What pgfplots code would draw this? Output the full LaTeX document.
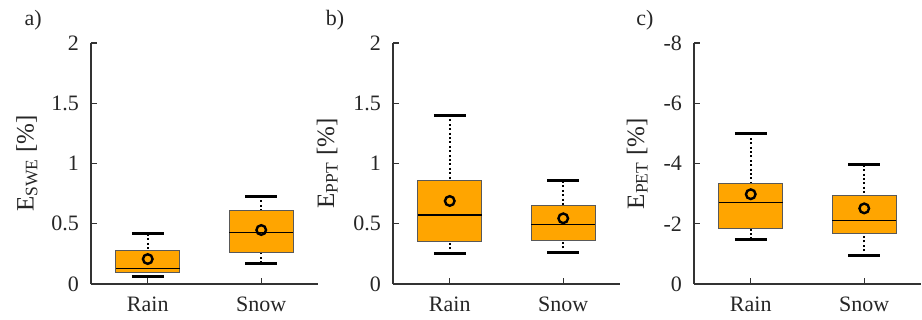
\documentclass[border=0pt]{standalone}
\usepackage{fontspec}
\setmainfont{Liberation Serif}
\usepackage{pgfplots}
\pgfplotsset{compat=1.18}
\usepgfplotslibrary{statistics}
\definecolor{boxorange}{HTML}{FFA500}

\pgfplotsset{
 myaxis/.style={
  scale only axis, width=113.5pt, height=120.5pt,
  xmin=0.5, xmax=2.5, xtick={1,2}, xticklabels={Rain,Snow},
  axis x line*=bottom, axis y line*=left,
  tick align=inside, major tick length=3pt,
  axis line style={black!80, line width=0.7pt},
  tick style={black!80, line width=0.7pt},
  /pgf/number format/assume math mode=true,
  every tick label/.append style={font=\fontsize{11}{13}\selectfont, text=black!85},
  yticklabel style={xshift=-2.5pt},
  xticklabel style={yshift=-3pt},
  label style={font=\fontsize{12.5}{14}\selectfont, text=black!85},
  clip=false,
  boxplot/draw direction=y,
  boxplot/box extend=0.56,
  boxplot/whisker extend=0.28,
  boxplot/every box/.style={draw=black!65, fill=boxorange, line width=0.5pt},
  boxplot/every median/.style={black, line width=0.6pt},
  boxplot/draw/lower whisker/.code={%
   \draw[black, line width=1.1pt, dash pattern=on 1pt off 1.2pt]
     (boxplot box cs:\pgfplotsboxplotvalue{lower whisker},0.5) --
     (boxplot box cs:\pgfplotsboxplotvalue{lower quartile},0.5);
   \draw[black, line width=1.5pt]
     (boxplot whisker cs:\pgfplotsboxplotvalue{lower whisker},0) --
     (boxplot whisker cs:\pgfplotsboxplotvalue{lower whisker},1);
  },
  boxplot/draw/upper whisker/.code={%
   \draw[black, line width=1.1pt, dash pattern=on 1pt off 1.2pt]
     (boxplot box cs:\pgfplotsboxplotvalue{upper whisker},0.5) --
     (boxplot box cs:\pgfplotsboxplotvalue{upper quartile},0.5);
   \draw[black, line width=1.5pt]
     (boxplot whisker cs:\pgfplotsboxplotvalue{upper whisker},0) --
     (boxplot whisker cs:\pgfplotsboxplotvalue{upper whisker},1);
  },
 },
 meanmark/.style={only marks, mark=o, mark size=2.4pt, mark options={line width=1.2pt, black}},
}

\begin{document}
\begin{tikzpicture}
\useasboundingbox (0,0) rectangle (461pt,160pt);

% ---- a) ----
\begin{axis}[myaxis, at={(45.5pt,18pt)},
  ymin=0, ymax=2, ytick={0,0.5,1,1.5,2},
  ylabel={E\textsubscript{SWE} [\%]},
  ylabel style={at={(axis description cs:-0.282,0.5)}, anchor=center}]
\addplot[black, boxplot prepared={draw position=1, lower whisker=0.061, lower quartile=0.097, median=0.13, upper quartile=0.282, upper whisker=0.415}] coordinates {};
\addplot[black, boxplot prepared={draw position=2, lower whisker=0.174, lower quartile=0.263, median=0.426, upper quartile=0.609, upper whisker=0.73}] coordinates {};
\addplot[meanmark] coordinates {(1,0.207) (2,0.448)};
\node[font=\fontsize{11}{13}\selectfont, text=black!85] at (axis description cs:-0.255,1.095) {a)};
\end{axis}

% ---- b) ----
\begin{axis}[myaxis, at={(196.5pt,18pt)},
  ymin=0, ymax=2, ytick={0,0.5,1,1.5,2},
  ylabel={E\textsubscript{PPT} [\%]},
  ylabel style={at={(axis description cs:-0.29,0.5)}, anchor=center}]
\addplot[black, boxplot prepared={draw position=1, lower whisker=0.252, lower quartile=0.349, median=0.573, upper quartile=0.858, upper whisker=1.402}] coordinates {};
\addplot[black, boxplot prepared={draw position=2, lower whisker=0.26, lower quartile=0.357, median=0.495, upper quartile=0.65, upper whisker=0.855}] coordinates {};
\addplot[meanmark] coordinates {(1,0.689) (2,0.545)};
\node[font=\fontsize{11}{13}\selectfont, text=black!85] at (axis description cs:-0.255,1.095) {b)};
\end{axis}

% ---- c) ----
\begin{axis}[myaxis, at={(347pt,18pt)},
  y dir=reverse,
  ymin=-8, ymax=0, ytick={-8,-6,-4,-2,0},
  ylabel={E\textsubscript{PET} [\%]},
  ylabel style={at={(axis description cs:-0.25,0.5)}, anchor=center}]
\addplot[black, boxplot prepared={draw position=1, lower whisker=-5.0, lower quartile=-3.34, median=-2.71, upper quartile=-1.83, upper whisker=-1.48}] coordinates {};
\addplot[black, boxplot prepared={draw position=2, lower whisker=-3.96, lower quartile=-2.95, median=-2.11, upper quartile=-1.68, upper whisker=-0.94}] coordinates {};
\addplot[meanmark] coordinates {(1,-2.98) (2,-2.51)};
\node[font=\fontsize{11}{13}\selectfont, text=black!85] at (axis description cs:-0.216,1.095) {c)};
\end{axis}
\end{tikzpicture}
\end{document}
